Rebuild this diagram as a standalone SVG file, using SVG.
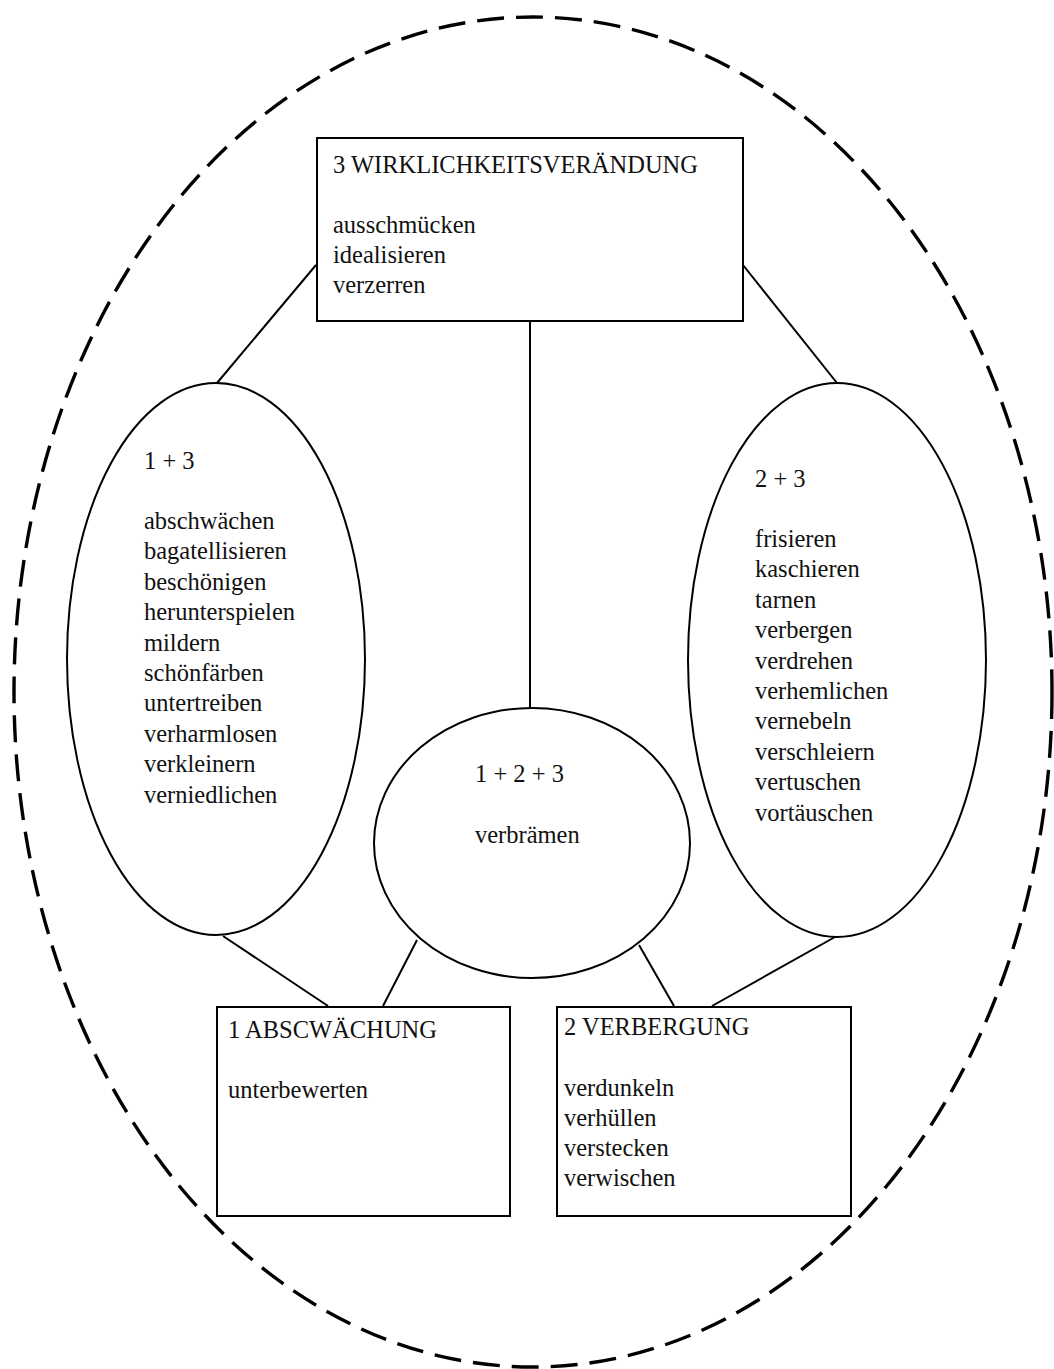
<svg xmlns="http://www.w3.org/2000/svg" width="1054" height="1369" viewBox="0 0 1054 1369">
<style>
  .bg { fill: #ffffff; }
  .outer { fill: none; stroke: #000; stroke-width: 3.4; stroke-dasharray: 27 12; }
  .box { fill: #fff; stroke: #000; stroke-width: 2; }
  .ell { fill: #fff; stroke: #000; stroke-width: 2; }
  .conn line { stroke: #000; stroke-width: 2; }
  text { font-family: "Liberation Serif", "Times New Roman", serif; font-size: 24.5px; fill: #111; }
</style>
<rect class="bg" x="0" y="0" width="1054" height="1369"/>
<ellipse class="outer" cx="533" cy="692" rx="519" ry="675"/>
<g id="connectors" class="conn">
  <line x1="316" y1="265" x2="217" y2="383"/>
  <line x1="743" y1="265" x2="837" y2="383"/>
  <line x1="530" y1="321" x2="530" y2="708"/>
  <line x1="223" y1="936" x2="328" y2="1006"/>
  <line x1="417" y1="940" x2="383" y2="1006"/>
  <line x1="639" y1="945" x2="674" y2="1006"/>
  <line x1="835" y1="937" x2="712" y2="1006"/>
</g>
<g id="node-3">
  <rect class="box" x="317" y="138" width="426" height="183"/>
  <text x="333" y="173">3 WIRKLICHKEITSVERÄNDUNG</text>
  <text x="333" y="233">ausschmücken</text>
  <text x="333" y="263">idealisieren</text>
  <text x="333" y="293">verzerren</text>
</g>
<g id="node-1-3">
  <ellipse class="ell" cx="216" cy="659" rx="149" ry="276"/>
  <text x="144" y="469">1 + 3</text>
  <text x="144" y="529">abschwächen</text>
  <text x="144" y="559.4">bagatellisieren</text>
  <text x="144" y="589.8">beschönigen</text>
  <text x="144" y="620.2">herunterspielen</text>
  <text x="144" y="650.6">mildern</text>
  <text x="144" y="681">schönfärben</text>
  <text x="144" y="711.4">untertreiben</text>
  <text x="144" y="741.8">verharmlosen</text>
  <text x="144" y="772.2">verkleinern</text>
  <text x="144" y="802.6">verniedlichen</text>
</g>
<g id="node-2-3">
  <ellipse class="ell" cx="837" cy="660" rx="149" ry="277"/>
  <text x="755" y="487">2 + 3</text>
  <text x="755" y="547">frisieren</text>
  <text x="755" y="577.4">kaschieren</text>
  <text x="755" y="607.8">tarnen</text>
  <text x="755" y="638.2">verbergen</text>
  <text x="755" y="668.6">verdrehen</text>
  <text x="755" y="699">verhemlichen</text>
  <text x="755" y="729.4">vernebeln</text>
  <text x="755" y="759.8">verschleiern</text>
  <text x="755" y="790.2">vertuschen</text>
  <text x="755" y="820.6">vortäuschen</text>
</g>
<g id="node-1-2-3">
  <ellipse class="ell" cx="532" cy="843" rx="158" ry="135"/>
  <text x="475" y="782">1 + 2 + 3</text>
  <text x="475" y="843">verbrämen</text>
</g>
<g id="node-1">
  <rect class="box" x="217" y="1007" width="293" height="209"/>
  <text x="228" y="1038">1 ABSCWÄCHUNG</text>
  <text x="228" y="1098">unterbewerten</text>
</g>
<g id="node-2">
  <rect class="box" x="557" y="1007" width="294" height="209"/>
  <text x="564" y="1035">2 VERBERGUNG</text>
  <text x="564" y="1096">verdunkeln</text>
  <text x="564" y="1126">verhüllen</text>
  <text x="564" y="1156">verstecken</text>
  <text x="564" y="1186">verwischen</text>
</g>
</svg>
